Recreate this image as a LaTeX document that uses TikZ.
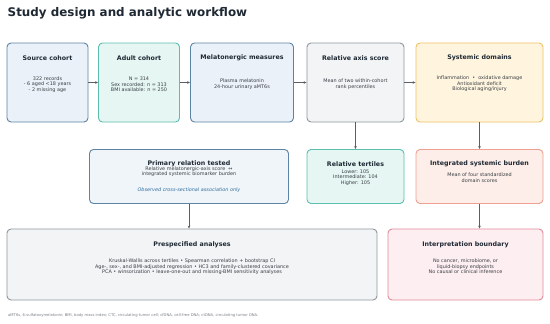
\documentclass[tikz,border=0pt]{standalone}
\usepackage{fontspec}
\setmainfont{DejaVu Sans}
\usetikzlibrary{arrows.meta}
\definecolor{ink}{HTML}{1F2933}
\definecolor{bodyc}{HTML}{3A3F44}
\definecolor{arr}{HTML}{5A6066}
\definecolor{bluefill}{HTML}{EAF1F8}\definecolor{blueline}{HTML}{5E84A5}
\definecolor{tealfill}{HTML}{E5F6F3}\definecolor{tealline}{HTML}{5BBFB0}
\definecolor{grayfill}{HTML}{F2F4F6}\definecolor{grayline}{HTML}{8E979D}
\definecolor{ambfill}{HTML}{FFF5DF}\definecolor{ambline}{HTML}{EFC163}
\definecolor{salfill}{HTML}{FDEEE9}\definecolor{salline}{HTML}{EFA091}
\definecolor{pinkfill}{HTML}{FDEEF1}\definecolor{pinkline}{HTML}{E38A99}
\definecolor{italc}{HTML}{2F6E9C}
\definecolor{footc}{HTML}{7A8086}
\tikzset{
  box/.style={draw, rounded corners=4pt, line width=0.9pt, inner sep=0pt},
  btitle/.style={font=\fontsize{6.3}{7}\selectfont\bfseries, text=ink, inner sep=0pt},
  btext/.style={font=\fontsize{4.9}{5.4}\selectfont, text=bodyc, align=center, inner sep=0pt},
  conn/.style={draw=arr, line width=0.6pt, -{Stealth[length=3pt,width=2.6pt]}},
}
\begin{document}
\begin{tikzpicture}[x=1pt,y=-1pt]
\useasboundingbox (0,0) rectangle (550,324);
\fill[white] (0,0) rectangle (550,324);
\node[anchor=base west, inner sep=0pt, font=\fontsize{11.9}{13}\selectfont\bfseries, text=ink] (title) at (7.5,16.5) {Study design and analytic workflow};

% top row
\node[box, fill=bluefill, draw=blueline, minimum width=81pt, minimum height=79pt] (src) at (47.5,82.5) {};
\node[btitle] (srct) at (47.5,58) {Source cohort};
\node[btext] (srcb) at (47.5,84.5) {322 records\\- 6 aged <18 years\\- 2 missing age};

\node[box, fill=tealfill, draw=tealline, minimum width=81pt, minimum height=79pt] (adu) at (139,82.5) {};
\node[btitle] (adut) at (139,58) {Adult cohort};
\node[btext] (adub) at (139,84.5) {N = 314\\Sex recorded: n = 313\\BMI available: n = 250};

\node[box, fill=bluefill, draw=blueline, minimum width=103pt, minimum height=79pt] (mel) at (242,82.5) {};
\node[btitle] (melt) at (242,58) {Melatonergic measures};
\node[btext] (melb) at (242,84) {Plasma melatonin\\24-hour urinary aMT6s};

\node[box, fill=grayfill, draw=grayline, minimum width=97pt, minimum height=79pt] (rax) at (355.5,82.5) {};
\node[btitle] (raxt) at (355.5,58) {Relative axis score};
\node[btext] (raxb) at (355.5,84) {Mean of two within-cohort\\rank percentiles};

\node[box, fill=ambfill, draw=ambline, minimum width=127pt, minimum height=79pt] (sys) at (479.5,82.5) {};
\node[btitle] (syst) at (479.5,58) {Systemic domains};
\node[btext] (sysb) at (479.5,84) {Inflammation~~•~~oxidative damage\\Antioxidant deficit\\Biological aging/injury};

% middle row
\node[box, fill=bluefill!70!white, draw=blueline, minimum width=199pt, minimum height=54pt] (pri) at (189,176.5) {};
\node[btitle] (prit) at (189,163.7) {Primary relation tested};
\node[btext] (prib) at (189,171.5) {Relative melatonergic-axis score~~↔\\integrated systemic biomarker burden};
\node[btext, text=italc, font=\fontsize{4.9}{5.6}\selectfont\itshape] (prii) at (189,190.5) {Observed cross-sectional association only};

\node[box, fill=tealfill, draw=tealline, minimum width=97pt, minimum height=54pt] (ter) at (355.5,176.5) {};
\node[btitle] (tert) at (355.5,164) {Relative tertiles};
\node[btext] (terb) at (355.5,177.5) {Lower: 105\\Intermediate: 104\\Higher: 105};

\node[box, fill=salfill, draw=salline, minimum width=127pt, minimum height=54pt] (isb) at (479.5,176.5) {};
\node[btitle] (isbt) at (479.5,164) {Integrated systemic burden};
\node[btext] (isbb) at (479.5,177.5) {Mean of four standardized\\domain scores};

% bottom row
\node[box, fill=grayfill, draw=grayline, minimum width=370pt, minimum height=71pt] (pre) at (192,264.5) {};
\node[btitle] (pret) at (192,244.5) {Prespecified analyses};
\node[btext] (preb) at (192,267) {Kruskal-Wallis across tertiles • Spearman correlation + bootstrap CI\\Age-, sex-, and BMI-adjusted regression • HC3 and family-clustered covariance\\PCA • winsorization • leave-one-out and missing-BMI sensitivity analyses};

\node[box, fill=pinkfill, draw=pinkline, minimum width=155pt, minimum height=71pt] (itp) at (465.5,264.5) {};
\node[btitle] (itpt) at (465.5,244.5) {Interpretation boundary};
\node[btext] (itpb) at (465.5,266.5) {No cancer, microbiome, or\\liquid-biopsy endpoints\\No causal or clinical inference};

\node[anchor=west, inner sep=0pt, font=\fontsize{3.75}{4.5}\selectfont, text=footc] (foot) at (8,315.5) {aMT6s, 6-sulfatoxymelatonin; BMI, body mass index; CTC, circulating tumor cell; cfDNA, cell-free DNA; ctDNA, circulating tumor DNA.};

% connectors
\draw[conn] (src.east) -- (adu.west);
\draw[conn] (adu.east) -- (mel.west);
\draw[conn] (mel.east) -- (rax.west);
\draw[conn] (rax.east) -- (sys.west);
\draw[conn] (rax.south) -- (ter.north);
\draw[conn] (sys.south) -- (isb.north);
\draw[conn] (isb.south) -- (isb.south |- itp.north);
\draw[conn] (pri.south) -- (pri.south |- pre.north);
\end{tikzpicture}
\end{document}
